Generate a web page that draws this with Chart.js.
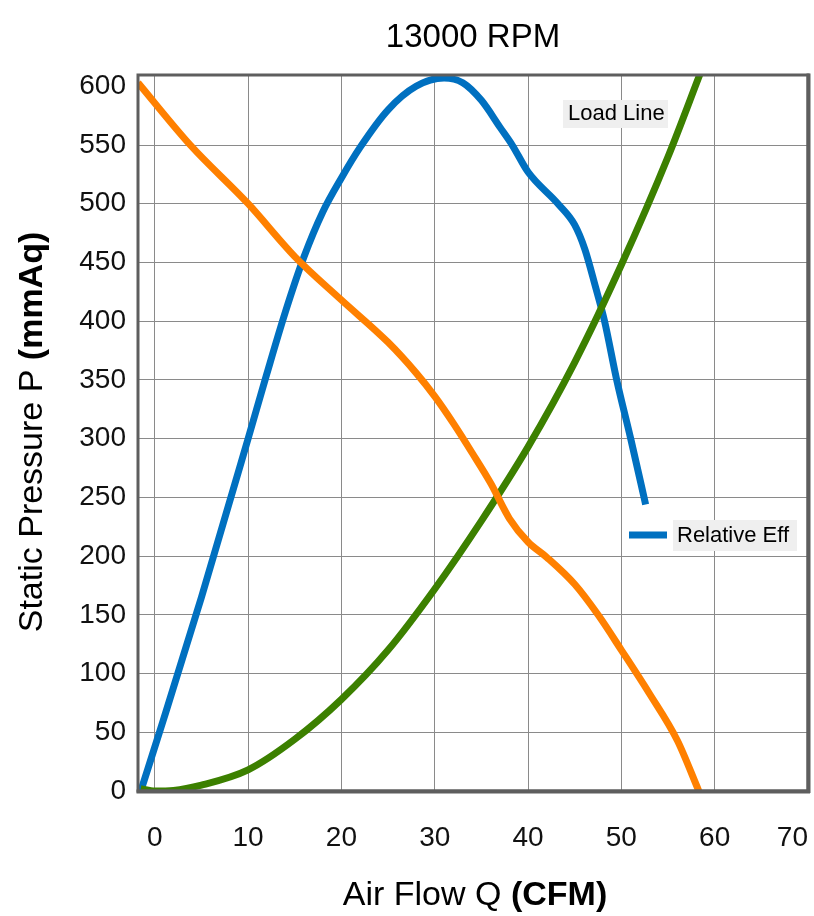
<!DOCTYPE html>
<html>
<head>
<meta charset="utf-8">
<script src="https://cdn.jsdelivr.net/npm/chart.js@4.4.1/dist/chart.umd.min.js"></script>
<style>
  html, body { margin: 0; padding: 0; background: #fff; }
  canvas { display: block; }
</style>
</head>
<body>
<canvas id="fanChart" width="814" height="916"></canvas>
<script>
/* ============================
   DATOS
============================ */
const TITLE = "13000 RPM";
const X_TICKS = [0, 10, 20, 30, 40, 50, 60, 70];
const Y_TICKS = [0, 50, 100, 150, 200, 250, 300, 350, 400, 450, 500, 550, 600];

// Curva de presion estatica (naranja)
const pressureQ = [-1.8, 3.8, 10, 15, 20, 25, 28, 30, 32, 34, 36, 38, 40, 42, 45, 47.5, 50, 53, 56, 58.3];
const pressureP = [603, 550, 500, 455, 418, 382, 356, 336, 313, 288, 262, 232, 212, 199, 176, 150, 120, 83, 43, 0];

// Eficiencia relativa (azul)
const effQ = [-1.5, 0.9, 5, 10, 12, 14, 16, 18, 20, 22, 25, 28, 31, 33, 35, 37, 38.3, 40, 43.2, 45, 46.1, 47.2, 48.2, 49.5, 51, 52.6];
const effP = [0, 60, 165, 300, 355, 408, 455, 493, 522, 548, 580, 600, 607, 603, 588, 565, 550, 527, 500, 482, 461, 430, 400, 350, 300, 244];

// Linea de carga (verde)
const loadQ = [-1.5, 0, 2, 5, 10, 15, 20, 25, 30, 35, 40, 45, 50, 55, 58.5];
const loadP = [2, 0, 0.5, 5, 18, 44, 78, 120, 172, 230, 293, 365, 448, 540, 612];

const COLORS = { pressure: "#ff8000", eff: "#0070c0", load: "#3c8000" };
const FONT = "'Liberation Sans', Arial, Helvetica, sans-serif";

function toPoints(xs, ys) {
    return xs.map((x, i) => ({ x: x, y: ys[i] }));
}

/* ============================
   TEXTOS, MARCO Y ETIQUETAS
============================ */
function drawMixed(ctx, normal, bold, size, cx, y) {
    ctx.font = `${size}px ${FONT}`;
    const w1 = ctx.measureText(normal).width;
    ctx.font = `bold ${size}px ${FONT}`;
    const w2 = ctx.measureText(bold).width;
    let x = cx - (w1 + w2) / 2;
    ctx.textAlign = "left";
    ctx.font = `${size}px ${FONT}`;
    ctx.fillText(normal, x, y);
    ctx.font = `bold ${size}px ${FONT}`;
    ctx.fillText(bold, x + w1, y);
}

const framePlugin = {
    id: "frame",
    afterDatasetsDraw(chart) {
        const { ctx, chartArea: a } = chart;
        ctx.save();
        ctx.strokeStyle = "#5e5e5e";
        ctx.lineWidth = 3;
        ctx.strokeRect(a.left, a.top, a.right - a.left, a.bottom - a.top);
        ctx.lineWidth = 4;
        ctx.beginPath();
        ctx.moveTo(a.right + 0.5, a.top - 1.5);
        ctx.lineTo(a.right + 0.5, a.bottom + 2);
        ctx.moveTo(a.left - 1.5, a.bottom + 0.5);
        ctx.lineTo(a.right + 2, a.bottom + 0.5);
        ctx.stroke();
        ctx.restore();
    }
};

const textPlugin = {
    id: "textos",
    afterDraw(chart) {
        const { ctx, chartArea: a } = chart;
        ctx.save();
        ctx.fillStyle = "#000";
        ctx.textBaseline = "alphabetic";

        // titulo
        ctx.font = `33px ${FONT}`;
        ctx.textAlign = "center";
        ctx.fillText(TITLE, (a.left + a.right) / 2, 47);

        // eje X
        drawMixed(ctx, "Air Flow Q ", "(CFM)", 34, 475, 905);

        // eje Y
        ctx.save();
        ctx.translate(42, 432);
        ctx.rotate(-Math.PI / 2);
        drawMixed(ctx, "Static Pressure P ", "(mmAq)", 34, 0, 0);
        ctx.restore();

        // etiqueta Load Line
        ctx.fillStyle = "#efefef";
        ctx.fillRect(563, 100, 105, 28);
        ctx.fillStyle = "#000";
        ctx.font = `22px ${FONT}`;
        ctx.textAlign = "left";
        ctx.textBaseline = "middle";
        ctx.fillText("Load Line", 568, 114);

        // leyenda Relative Eff
        ctx.fillStyle = "#efefef";
        ctx.fillRect(673, 520, 124, 31);
        ctx.strokeStyle = COLORS.eff;
        ctx.lineWidth = 7;
        ctx.beginPath();
        ctx.moveTo(629, 535);
        ctx.lineTo(667, 535);
        ctx.stroke();
        ctx.fillStyle = "#000";
        ctx.fillText("Relative Eff", 677, 536);
        ctx.restore();
    }
};

/* ============================
   CHART
============================ */
const lineStyle = {
    borderWidth: 7,
    pointRadius: 0,
    fill: false,
    cubicInterpolationMode: "monotone",
    borderCapStyle: "butt"
};

new Chart(document.getElementById("fanChart").getContext("2d"), {
    type: "line",
    data: {
        datasets: [
            Object.assign({ label: "Static Pressure", data: toPoints(pressureQ, pressureP), borderColor: COLORS.pressure }, lineStyle),
            Object.assign({ label: "Load Line", data: toPoints(loadQ, loadP), borderColor: COLORS.load }, lineStyle),
            Object.assign({ label: "Relative Eff", data: toPoints(effQ, effP), borderColor: COLORS.eff }, lineStyle)
        ]
    },
    options: {
        responsive: false,
        animation: false,
        layout: { padding: { top: 75, right: 6, left: 0, bottom: 0 } },
        plugins: {
            legend: { display: false },
            title: { display: false },
            tooltip: { enabled: false }
        },
        scales: {
            x: {
                type: "linear",
                min: -1.8,
                max: 70,
                afterBuildTicks: s => { s.ticks = X_TICKS.map(v => ({ value: v })); },
                afterFit: s => { s.height = 125; s.paddingLeft = 0; s.paddingRight = 0; },
                grid: { color: "#8a8a8a", lineWidth: 1, drawTicks: false },
                border: { display: false },
                ticks: {
                    padding: 30,
                    color: "#111",
                    font: { family: FONT, size: 28 },
                    maxRotation: 0,
                    // la ultima etiqueta queda desplazada a la izquierda como en el original
                    callback: v => (v === 70 ? "70    " : String(v))
                }
            },
            y: {
                type: "linear",
                min: 0,
                max: 609.6,
                afterBuildTicks: s => { s.ticks = Y_TICKS.map(v => ({ value: v })); },
                afterFit: s => { s.width = 138; s.paddingTop = 0; s.paddingBottom = 0; },
                grid: {
                    color: c => (c.tick && c.tick.value === 600 ? "rgba(0,0,0,0)" : "#8a8a8a"),
                    lineWidth: 1,
                    drawTicks: false
                },
                border: { display: false },
                ticks: {
                    padding: 12,
                    color: "#111",
                    font: { family: FONT, size: 28 }
                }
            }
        }
    },
    plugins: [framePlugin, textPlugin]
});
</script>
</body>
</html>
